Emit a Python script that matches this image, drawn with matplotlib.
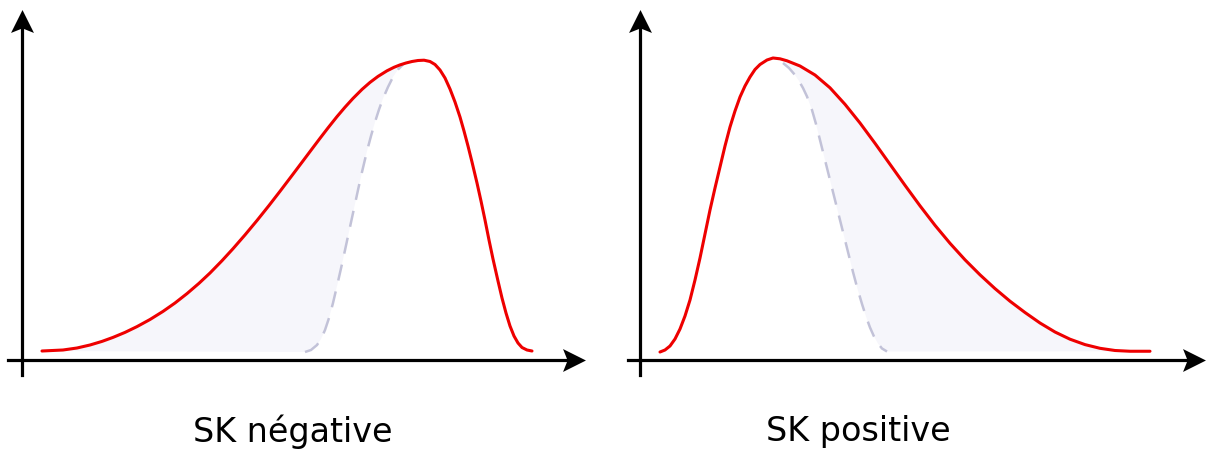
import numpy as np
import matplotlib
matplotlib.use("Agg")
from matplotlib import pyplot as plt
from matplotlib.path import Path

# Points (x: px right of the y axis, y: px above the x axis)
neg_x = [20, 41, 55, 68, 80, 91, 103, 115, 128, 141, 153, 165, 177, 188, 200, 211,
         223, 235, 247, 258, 270, 281, 290, 298, 306, 315, 323, 331, 340, 348, 356,
         365, 372, 378, 384, 390, 396, 402, 408, 413, 418, 423, 428, 433, 438, 442,
         446, 450, 455, 459, 463, 467, 471, 476, 480, 484, 488, 492, 496, 500, 505, 510]
neg_y = [9, 10, 12, 15, 18.6, 22.6, 27.6, 33.4, 40.5, 48.6, 57, 66.4, 76.7, 87, 99.3,
         111.3, 125.1, 139.5, 154.5, 168.7, 184.5, 199.1, 211.1, 221.7, 232.1, 243.4,
         252.8, 261.6, 270.6, 277.6, 283.6, 289.2, 292.7, 295.1, 297, 298.5, 299.5,
         299.8, 298.5, 295.5, 290, 282, 271, 258, 243, 229, 214, 198, 177, 159, 140,
         120, 101, 79, 62, 47, 34, 24, 17, 12.5, 10, 9]
neg_dash_x = [283, 289, 295, 299, 303, 307, 311, 315, 320, 324, 328, 332, 336, 340,
              345, 349, 353, 357, 361, 366, 371, 376, 381]
neg_dash_y = [8, 10, 15, 21, 30, 42, 57, 74, 96, 114.5, 133, 151.5, 170, 188,
              209, 224, 238, 250.5, 261.5, 273, 283, 290.5, 295.5]

pos_x = [20, 25, 30, 35, 40, 45, 50, 55, 60, 65, 70, 75, 80, 85, 90, 95, 100, 105,
         110, 115, 120, 127, 133, 140, 147, 160, 175, 190, 205, 220, 235, 250, 265,
         280, 295, 310, 325, 340, 355, 370, 385, 400, 415, 430, 445, 460, 475, 490, 510]
pos_y = [8, 10, 14, 21, 31, 44, 60, 80, 102, 126, 150, 172, 193, 214, 233, 249, 263,
         274, 283, 290.5, 295.5, 300, 302, 301.2, 299.2, 294, 285, 272.2, 255.7, 237,
         216.7, 195.7, 174.7, 154.2, 134.7, 116.7, 100.2, 85.2, 71.4, 58.8, 47.5, 37,
         28, 20.8, 15.4, 11.7, 9.5, 8.75, 8.75]
pos_dash_x = [143, 149, 155, 159, 163, 167, 172, 176, 180, 184, 188, 193, 197, 201,
              205, 209, 213, 217, 222, 226, 230, 234, 238, 242, 247]
pos_dash_y = [297, 292, 285, 279, 272, 263.5, 250, 236, 220, 204, 188, 168, 152, 136,
              120, 104, 88, 73, 56, 43.5, 32.5, 23.5, 16.5, 11.5, 8.5]

labels = ["SK négative", "SK positive"]

red = "#ee0000"
dash_col = "#c2c2d8"
fill_col = "#f6f6fb"

# stealth-like arrow heads
codes = [Path.MOVETO, Path.LINETO, Path.LINETO, Path.LINETO, Path.CLOSEPOLY]
head_up = Path([(0, 0.5), (0.5, -0.5), (0, -0.3), (-0.5, -0.5), (0, 0.5)], codes)
head_right = Path([(0.5, 0), (-0.5, 0.5), (-0.3, 0), (-0.5, -0.5), (0.5, 0)], codes)

fig = plt.figure(figsize=(12.08, 4.5), dpi=100)
ax1 = fig.add_axes([0, 70 / 450, 604 / 1208, 380 / 450])
ax2 = fig.add_axes([604 / 1208, 70 / 450, 604 / 1208, 380 / 450])
ax1.set_xlim(-22, 582)
ax2.set_xlim(-36, 568)


def draw_axes(ax, x0, x1):
    ax.set_ylim(-20, 360)
    ax.axis("off")
    ax.plot([x0, x1 - 14], [0, 0], color="black", lw=2.3, zorder=4)
    ax.plot([0, 0], [-15, 350 - 14], color="black", lw=2.3, zorder=4)
    ax.plot([x1 - 11], [0], marker=head_right, ms=16.5, color="black", mew=0, zorder=5)
    ax.plot([0], [350 - 11], marker=head_up, ms=16.5, color="black", mew=0, zorder=5)


# negative skew
draw_axes(ax1, -14, 563)
pk = neg_x.index(378)
ax1.fill(neg_x[:pk + 1] + neg_dash_x[::-1], neg_y[:pk + 1] + neg_dash_y[::-1],
         color=fill_col, lw=0, zorder=1)
ax1.plot(neg_dash_x, neg_dash_y, color=dash_col, lw=1.8, dashes=(6.5, 4.5), zorder=2)
ax1.plot(neg_x, neg_y, color=red, lw=2.2, zorder=3, solid_capstyle="round",
         solid_joinstyle="round")

# positive skew
draw_axes(ax2, -12, 565)
pk = pos_x.index(147)
ax2.fill(pos_dash_x + pos_x[pk:][::-1], pos_dash_y + pos_y[pk:][::-1],
         color=fill_col, lw=0, zorder=1)
ax2.plot(pos_dash_x, pos_dash_y, color=dash_col, lw=1.8, dashes=(6.5, 4.5), zorder=2)
ax2.plot(pos_x, pos_y, color=red, lw=2.2, zorder=3, solid_capstyle="round",
         solid_joinstyle="round")

fig.text(293 / 1208, 1 - 432 / 450, labels[0], ha="center", va="center", fontsize=24)
fig.text(858 / 1208, 1 - 432 / 450, labels[1], ha="center", va="center", fontsize=24)

fig.savefig("out.png", dpi=100)
